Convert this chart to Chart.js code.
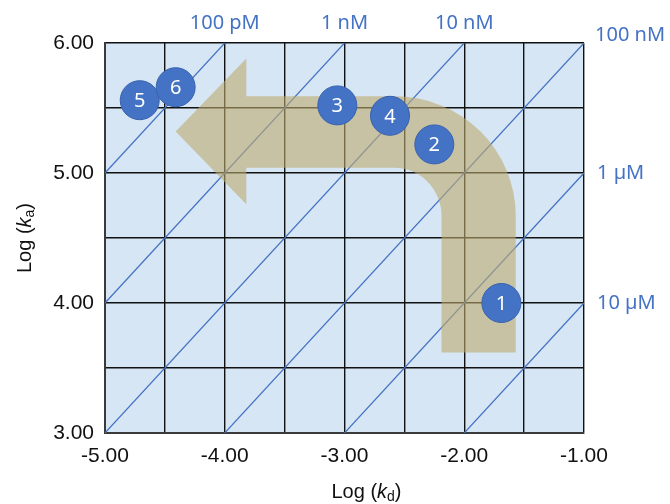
<!DOCTYPE html>
<html>
<head>
<meta charset="utf-8">
<script src="https://cdn.jsdelivr.net/npm/chart.js@4.4.1/dist/chart.umd.min.js"></script>
<style>
  html, body { margin: 0; padding: 0; background: #fff; }
</style>
</head>
<body>
<canvas id="kineticsChart" width="670" height="504"></canvas>
<script>
// tick labels
var xTickLabels = ['-5.00', '-4.00', '-3.00', '-2.00', '-1.00'];
var yTickLabels = ['3.00', '4.00', '5.00', '6.00'];

// measured compounds
var pointNames = ['1', '2', '3', '4', '5', '6'];
var logKd = [-1.69, -2.25, -3.06, -2.62, -4.71, -4.41];
var logKa = [4.00, 5.22, 5.52, 5.44, 5.56, 5.66];

// iso-affinity lines (log KD = log kd - log ka)
var isoLabels = ['100 pM', '1 nM', '10 nM', '100 nM', '1 µM', '10 µM'];
var isoLogKD = [-10, -9, -8, -7, -6, -5];

// axis range
var xMin = -5, xMax = -1, yMin = 3, yMax = 6;

// arrow annotation outline, in axis units
var arrowShape = {
    shaftLeft: -2.19, shaftRight: -1.57, shaftBottom: 3.62,
    bendX: -2.58, bendY: 4.67,
    bandTop: 5.59, bandBottom: 5.04,
    headBase: -3.82, headTop: 5.88, headBottom: 4.76,
    tipX: -4.41, tipY: 5.32
};

var blue = '#4472c4';

// line segments clipped to the plot box
var isoDatasets = isoLogKD.map(function (c, i) {
    var x0 = Math.max(xMin, yMin + c);
    var x1 = Math.min(xMax, yMax + c);
    return {
        type: 'line',
        label: isoLabels[i],
        data: [{ x: x0, y: x0 - c }, { x: x1, y: x1 - c }],
        borderColor: blue,
        borderWidth: 1.2,
        pointRadius: 0,
        fill: false,
        order: 1
    };
});

var pointData = logKd.map(function (v, i) {
    return { x: v, y: logKa[i] };
});

function labelFor(list, v) {
    var found = list.find(function (l) { return Math.abs(parseFloat(l) - v) < 1e-9; });
    return found || '';
}

var plotBackground = {
    id: 'plotBackground',
    beforeDraw: function (chart) {
        var a = chart.chartArea, ctx = chart.ctx;
        ctx.save();
        ctx.fillStyle = '#d6e6f4';
        ctx.fillRect(a.left, a.top, a.right - a.left, a.bottom - a.top);
        ctx.restore();
    }
};

var arrowPlugin = {
    id: 'arrowPlugin',
    beforeDatasetDraw: function (chart, args) {
        if (args.index !== 0) return;
        var sx = chart.scales.x, sy = chart.scales.y, ctx = chart.ctx;
        var X = function (v) { return sx.getPixelForValue(v); };
        var Y = function (v) { return sy.getPixelForValue(v); };
        var s = arrowShape;
        var cx = X(s.bendX), cy = Y(s.bendY);
        ctx.save();
        ctx.fillStyle = 'rgba(190,170,110,0.6)';
        ctx.beginPath();
        ctx.moveTo(X(s.shaftRight), Y(s.shaftBottom));
        ctx.lineTo(X(s.shaftRight), cy);
        ctx.ellipse(cx, cy, X(s.shaftRight) - cx, cy - Y(s.bandTop), 0, 0, -Math.PI / 2, true);
        ctx.lineTo(X(s.headBase), Y(s.bandTop));
        ctx.lineTo(X(s.headBase), Y(s.headTop));
        ctx.lineTo(X(s.tipX), Y(s.tipY));
        ctx.lineTo(X(s.headBase), Y(s.headBottom));
        ctx.lineTo(X(s.headBase), Y(s.bandBottom));
        ctx.lineTo(cx, Y(s.bandBottom));
        ctx.ellipse(cx, cy, X(s.shaftLeft) - cx, cy - Y(s.bandBottom), 0, -Math.PI / 2, 0, false);
        ctx.lineTo(X(s.shaftLeft), Y(s.shaftBottom));
        ctx.closePath();
        ctx.fill();
        ctx.restore();
    }
};

function drawRichTitle(ctx, x, y, letter, sub, rotate) {
    var size = 20;
    var base = size + 'px "Liberation Sans", Arial, sans-serif';
    var ital = 'italic ' + base;
    var subF = Math.round(size * 0.68) + 'px "Liberation Sans", Arial, sans-serif';
    var parts = [['Log (', base, 0], [letter, ital, 0], [sub, subF, 5], [')', base, 0]];
    ctx.save();
    var w = 0;
    parts.forEach(function (p) { ctx.font = p[1]; w += ctx.measureText(p[0]).width; });
    ctx.translate(x, y);
    if (rotate) ctx.rotate(-Math.PI / 2);
    ctx.fillStyle = '#111';
    ctx.textBaseline = 'middle';
    ctx.textAlign = 'left';
    var pos = -w / 2;
    parts.forEach(function (p) {
        ctx.font = p[1];
        ctx.fillText(p[0], pos, p[2]);
        pos += ctx.measureText(p[0]).width;
    });
    ctx.restore();
}

var labelsPlugin = {
    id: 'labelsPlugin',
    afterDatasetsDraw: function (chart) {
        var ctx = chart.ctx;
        var meta = chart.getDatasetMeta(0);
        ctx.save();
        ctx.fillStyle = '#fff';
        ctx.font = '20px "Noto Sans", sans-serif';
        ctx.textAlign = 'center';
        ctx.textBaseline = 'middle';
        meta.data.forEach(function (el, i) {
            ctx.fillText(pointNames[i], el.x, el.y + 1);
        });
        ctx.restore();
    },
    afterDraw: function (chart) {
        var ctx = chart.ctx, a = chart.chartArea;
        var sx = chart.scales.x, sy = chart.scales.y;
        ctx.save();
        ctx.fillStyle = blue;
        ctx.font = '20px "Noto Sans", sans-serif';
        ctx.textBaseline = 'middle';
        isoLogKD.forEach(function (c, i) {
            var xe = Math.min(xMax, yMax + c);
            var ye = xe - c;
            var px = sx.getPixelForValue(xe), py = sy.getPixelForValue(ye);
            if (xe < xMax) {
                ctx.textAlign = 'center';
                ctx.fillText(isoLabels[i], px, a.top - 20);
            } else if (ye >= yMax) {
                ctx.textAlign = 'left';
                ctx.fillText(isoLabels[i], px + 11, py - 8);
            } else {
                ctx.textAlign = 'left';
                ctx.fillText(isoLabels[i], px + 13, py);
            }
        });
        ctx.restore();

        drawRichTitle(ctx, (a.left + a.right) / 2 + 22, 492, 'k', 'd', false);
        drawRichTitle(ctx, 25, (a.top + a.bottom) / 2, 'k', 'a', true);
    }
};

var tickFont = { family: '"Liberation Sans", Arial, sans-serif', size: 21 };

var ctx = document.getElementById('kineticsChart');
if (ctx) {
    new Chart(ctx, {
        type: 'scatter',
        data: {
            datasets: [{
                label: 'compounds',
                data: pointData,
                backgroundColor: blue,
                borderColor: '#3862ad',
                borderWidth: 1,
                pointRadius: 19.5,
                pointHoverRadius: 19.5,
                order: 0
            }].concat(isoDatasets)
        },
        options: {
            responsive: false,
            devicePixelRatio: 1,
            animation: false,
            layout: { padding: { top: 43, right: 86, left: 0, bottom: 0 } },
            scales: {
                x: {
                    type: 'linear',
                    min: xMin,
                    max: xMax,
                    ticks: {
                        stepSize: 0.5,
                        padding: 11,
                        color: '#111',
                        font: tickFont,
                        autoSkip: false,
                        maxRotation: 0,
                        callback: function (v) { return labelFor(xTickLabels, v); }
                    },
                    grid: { color: '#111', lineWidth: 1.4, drawTicks: false },
                    border: { color: '#3a3a3a', width: 2 },
                    afterFit: function (s) { s.height = 71; s.paddingLeft = 0; s.paddingRight = 0; }
                },
                y: {
                    type: 'linear',
                    min: yMin,
                    max: yMax,
                    ticks: {
                        stepSize: 0.5,
                        padding: 11,
                        color: '#111',
                        font: tickFont,
                        autoSkip: false,
                        callback: function (v) { return labelFor(yTickLabels, v); }
                    },
                    grid: { color: '#111', lineWidth: 1.4, drawTicks: false },
                    border: { color: '#3a3a3a', width: 2 },
                    afterFit: function (s) { s.width = 105; s.paddingTop = 0; s.paddingBottom = 0; }
                }
            },
            plugins: {
                legend: { display: false },
                tooltip: { enabled: false }
            }
        },
        plugins: [plotBackground, arrowPlugin, labelsPlugin]
    });
} else {
    console.error("Canvas element with ID 'kineticsChart' not found.");
}
</script>
</body>
</html>
